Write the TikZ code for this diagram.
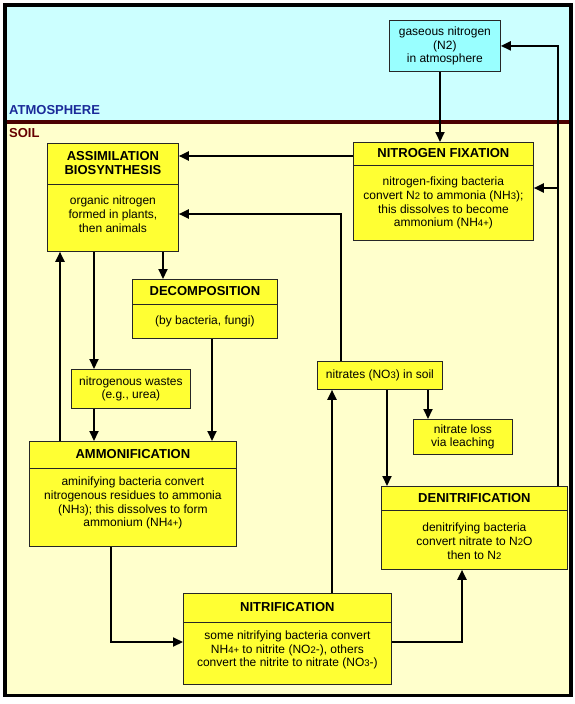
\documentclass[tikz,border=0pt]{standalone}
\usepackage{fontspec}
\setmainfont{Liberation Sans}
\usetikzlibrary{arrows.meta}

\definecolor{soilyellow}{HTML}{FFFFCC}
\definecolor{skycyan}{HTML}{CCFFFF}
\definecolor{boxyellow}{HTML}{FFFF33}
\definecolor{gascyan}{HTML}{99FFFF}
\definecolor{sepred}{HTML}{4A0000}
\definecolor{atmblue}{HTML}{1A2A99}
\definecolor{soilred}{HTML}{660000}

\newcommand{\boxtitlefont}{\fontsize{13}{14}\selectfont\bfseries}
\newcommand{\boxtextfont}{\fontsize{12}{13.8}\selectfont}
\newcommand{\chemsub}[1]{{\fontsize{9.5}{10}\selectfont #1}}

\tikzset{
    proc-box/.style = {draw=black!85, fill=boxyellow, line width=0.8pt, rectangle, inner sep=0pt, anchor=north west},
    note-box/.style = {proc-box, font=\boxtextfont, align=center},
    proc-title/.style = {font=\boxtitlefont, align=center, inner sep=0pt},
    proc-text/.style = {font=\boxtextfont, align=center, inner sep=0pt},
    divider/.style = {draw=black!85, line width=0.8pt},
    flow/.style = {-{Triangle[length=10pt, width=9pt]}, line width=2pt},
    zone-label/.style = {font=\boxtitlefont, anchor=base west, inner sep=0pt},
}

\begin{document}
\begin{tikzpicture}[x=1pt, y=-1pt]
\useasboundingbox (0,0) rectangle (575,704);

% atmosphere and soil
\fill[skycyan] (5,5) rectangle (571,122);
\fill[soilyellow] (5,122) rectangle (571,695.5);
\draw[sepred, line width=4pt] (5,122) -- (571,122);
\draw[black, line width=3.5pt] (5,5) rectangle (571,695.5);
\node[zone-label, text=atmblue] (atm-label) at (9,114) {ATMOSPHERE};
\node[zone-label, text=soilred] (soil-label) at (9,137) {SOIL};

% simple boxes
\node[note-box, fill=gascyan, minimum width=111pt, minimum height=51pt] (gas) at (389,20)
    {gaseous nitrogen\\(N2)\\in atmosphere};
\node[note-box, minimum width=119pt, minimum height=39pt] (wastes) at (71,369)
    {nitrogenous wastes\\(e.g., urea)};
\node[note-box, minimum width=125pt, minimum height=28pt] (nitrates) at (317,361)
    {nitrates (NO\chemsub{3}) in soil};
\node[note-box, minimum width=99pt, minimum height=35pt] (leach) at (413,419)
    {nitrate loss\\via leaching};

% nitrogen fixation
\node[proc-box, minimum width=180pt, minimum height=98pt] (nfix) at (353,142) {};
\draw[divider] ([yshift=-23pt]nfix.north west) -- ([yshift=-23pt]nfix.north east);
\node[proc-title] (nfix-title) at ([yshift=-11.5pt]nfix.north) {NITROGEN FIXATION};
\node[proc-text] (nfix-text) at ([yshift=-61pt]nfix.north)
    {nitrogen-fixing bacteria\\convert N\chemsub{2} to ammonia (NH\chemsub{3});\\this dissolves to become\\ammonium (NH\chemsub{4+})};

% assimilation
\node[proc-box, minimum width=131pt, minimum height=108pt] (assim) at (47,143) {};
\draw[divider] ([yshift=-41pt]assim.north west) -- ([yshift=-41pt]assim.north east);
\node[proc-title] (assim-title) at ([yshift=-20.5pt]assim.north) {ASSIMILATION\\BIOSYNTHESIS};
\node[proc-text] (assim-text) at ([yshift=-71.5pt]assim.north)
    {organic nitrogen\\formed in plants,\\then animals};

% decomposition
\node[proc-box, minimum width=145pt, minimum height=59pt] (decomp) at (132,279) {};
\draw[divider] ([yshift=-25pt]decomp.north west) -- ([yshift=-25pt]decomp.north east);
\node[proc-title] (decomp-title) at ([yshift=-12.5pt]decomp.north) {DECOMPOSITION};
\node[proc-text] (decomp-text) at ([yshift=-42.7pt]decomp.north) {(by bacteria, fungi)};

% ammonification
\node[proc-box, minimum width=207pt, minimum height=105pt] (ammon) at (29,441) {};
\draw[divider] ([yshift=-27pt]ammon.north west) -- ([yshift=-27pt]ammon.north east);
\node[proc-title] (ammon-title) at ([yshift=-13.5pt]ammon.north) {AMMONIFICATION};
\node[proc-text] (ammon-text) at ([yshift=-62pt]ammon.north)
    {aminifying bacteria convert\\nitrogenous residues to ammonia\\(NH\chemsub{3}); this dissolves to form\\ammonium (NH\chemsub{4+})};

% nitrification
\node[proc-box, minimum width=208pt, minimum height=91pt] (nitrif) at (183,593) {};
\draw[divider] ([yshift=-29pt]nitrif.north west) -- ([yshift=-29pt]nitrif.north east);
\node[proc-title] (nitrif-title) at ([yshift=-14.5pt]nitrif.north) {NITRIFICATION};
\node[proc-text] (nitrif-text) at ([yshift=-57pt]nitrif.north)
    {some nitrifying bacteria convert\\NH\chemsub{4+} to nitrite (NO\chemsub{2}-), others\\convert the nitrite to nitrate (NO\chemsub{3}-)};

% denitrification
\node[proc-box, minimum width=186pt, minimum height=83pt] (denit) at (381,486) {};
\draw[divider] ([yshift=-24pt]denit.north west) -- ([yshift=-24pt]denit.north east);
\node[proc-title] (denit-title) at ([yshift=-12pt]denit.north) {DENITRIFICATION};
\node[proc-text] (denit-text) at ([yshift=-55pt]denit.north)
    {denitrifying bacteria\\convert nitrate to N\chemsub{2}O\\then to N\chemsub{2}};

% connectors
\coordinate (junction) at (558,188);
\draw[flow] (gas.south -| 440,0) -- (nfix.north -| 440,0);
\draw[flow] (denit.north -| junction) |- (gas.east);
\draw[flow] (junction) -- (nfix.east |- junction);
\draw[flow] (nfix.west |- 0,156) -- (assim.east |- 0,156);
\draw[flow] (nitrates.north -| 341,0) |- (assim.east |- 0,214);
\draw[flow] (assim.south -| 163,0) -- (decomp.north -| 163,0);
\draw[flow] (assim.south -| 94,0) -- (wastes.north -| 94,0);
\draw[flow] (wastes.south -| 94,0) -- (ammon.north -| 94,0);
\draw[flow] (decomp.south -| 212,0) -- (ammon.north -| 212,0);
\draw[flow] (ammon.north -| 60,0) -- (assim.south -| 60,0);
\draw[flow] (ammon.south -| 111,0) |- (nitrif.west |- 0,642);
\draw[flow] (nitrif.north -| 332,0) -- (nitrates.south -| 332,0);
\draw[flow] (nitrif.east |- 0,642) -| (denit.south -| 462,0);
\draw[flow] (nitrates.south -| 387,0) -- (denit.north -| 387,0);
\draw[flow] (nitrates.south -| 428,0) -- (leach.north -| 428,0);
\end{tikzpicture}
\end{document}
